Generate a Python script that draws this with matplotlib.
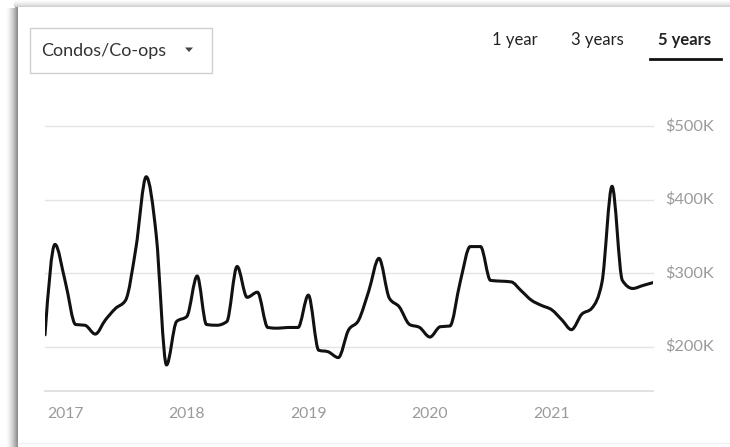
import numpy as np
import pandas as pd
import matplotlib
matplotlib.use("Agg")
import matplotlib.pyplot as plt
import matplotlib.dates as mdates
from matplotlib.path import Path
from matplotlib.patches import PathPatch, Rectangle, Polygon

# ---------------- data ----------------
start_month = "2016-11-01"
prices_k = [216, 339, 288, 230, 229, 217, 236, 252, 263, 334,
            431, 352, 175, 234, 241, 296, 230, 229, 234, 309,
            267, 274, 226, 225, 226, 226, 270, 195, 193, 185,
            222, 236, 275, 320, 266, 254, 230, 226, 213, 227,
            228, 288, 336, 336, 290, 289, 288, 276, 263, 256,
            250, 236, 223, 244, 252, 288, 418, 290, 279, 283, 287]
y_ticks = [200, 300, 400, 500]
y_tick_labels = ["$200K", "$300K", "$400K", "$500K"]
x_tick_years = [2017, 2018, 2019, 2020, 2021]
tabs = ["1 year", "3 years", "5 years"]
dropdown_label = "Condos/Co-ops"

dates = pd.date_range(start_month, periods=len(prices_k), freq="MS")
xs = mdates.date2num(dates.to_pydatetime())
ys = np.array(prices_k, dtype=float)

# ---------------- monotone-X curve (d3 style) ----------------
def monotone_path(x, y):
    n = len(x)
    t = np.zeros(n)
    for i in range(1, n - 1):
        h0 = x[i] - x[i - 1]
        h1 = x[i + 1] - x[i]
        s0 = (y[i] - y[i - 1]) / h0
        s1 = (y[i + 1] - y[i]) / h1
        p = (s0 * h1 + s1 * h0) / (h0 + h1)
        t[i] = (np.sign(s0) + np.sign(s1)) * min(abs(s0), abs(s1), 0.5 * abs(p))
    h = x[1] - x[0]
    t[0] = (3 * (y[1] - y[0]) / h - t[1]) / 2
    h = x[-1] - x[-2]
    t[-1] = (3 * (y[-1] - y[-2]) / h - t[-2]) / 2
    verts = [(x[0], y[0])]
    codes = [Path.MOVETO]
    for i in range(n - 1):
        dx = (x[i + 1] - x[i]) / 3
        verts += [(x[i] + dx, y[i] + dx * t[i]),
                  (x[i + 1] - dx, y[i + 1] - dx * t[i + 1]),
                  (x[i + 1], y[i + 1])]
        codes += [Path.CURVE4] * 3
    return Path(verts, codes)

# ---------------- figure ----------------
W, H = 730, 447
fig = plt.figure(figsize=(W / 100, H / 100), dpi=100)
fig.patch.set_facecolor("white")
FONT = ["Lato", "DejaVu Sans"]

def fx(px):
    return px / W

def fy(py):
    return 1 - py / H

CARD_L, CARD_T, CARD_B = 18, 7, 443

# card shadow: left edge (darker) and top edge (lighter)
n_left = 12
for i in range(n_left):
    f = (i + 1) / n_left            # 0 -> far, 1 -> next to card
    shade = 1 - 0.45 * f ** 1.6
    fig.add_artist(Rectangle((fx(CARD_L - n_left + i), 0), fx(1), fy(CARD_T + 2 - 2 * f),
                             transform=fig.transFigure, facecolor=(shade,) * 3,
                             edgecolor="none", zorder=-3))
n_top = 7
for i in range(n_top):
    f = (i + 1) / n_top
    shade = 1 - 0.18 * f ** 1.5
    fig.add_artist(Rectangle((fx(CARD_L - 4), fy(CARD_T - n_top + i + 1)), 1, fx(1) * W / H,
                             transform=fig.transFigure, facecolor=(shade,) * 3,
                             edgecolor="none", zorder=-3))
# white card
fig.add_artist(Rectangle((fx(CARD_L), fy(CARD_B)), 1 - fx(CARD_L), fy(CARD_T) - fy(CARD_B),
                         transform=fig.transFigure, facecolor="white",
                         edgecolor="none", zorder=-2))
fig.add_artist(plt.Line2D([fx(CARD_L), 1], [fy(CARD_B), fy(CARD_B)], transform=fig.transFigure,
                          color="#f0f0f0", lw=1.0, zorder=-1))

# ---------------- axes ----------------
ax_left, ax_right = 45, 653
ax_top, ax_bottom = 126, 390.7
ax = fig.add_axes([fx(ax_left), fy(ax_bottom), fx(ax_right - ax_left), fy(ax_top) - fy(ax_bottom)])
ax.set_zorder(1)
ax.set_facecolor("none")
ax.set_xlim(xs[0], xs[-1])
ax.set_ylim(140, 500)
for s in ax.spines.values():
    s.set_visible(False)
ax.tick_params(left=False, bottom=False, labelleft=False, labelbottom=True)

for v in y_ticks:
    ax.axhline(v, color="#e4e4e4", lw=1.0, zorder=1, clip_on=False)
ax.axhline(140, color="#dcdcdc", lw=1.2, zorder=1, clip_on=False)

lab_x = 1 + (665 - ax_right) / (ax_right - ax_left)
for v, lab in zip(y_ticks, y_tick_labels):
    ax.text(lab_x, v, lab, transform=ax.get_yaxis_transform(), ha="left", va="center",
            fontsize=11.8, color="#9a9a9a", family=FONT)

tick_pos = mdates.date2num([pd.Timestamp(f"{y}-01-01").to_pydatetime() for y in x_tick_years])
ax.set_xticks(tick_pos)
ax.set_xticklabels([str(y) for y in x_tick_years], fontsize=11.3, color="#9a9a9a", family=FONT)
ax.tick_params(axis="x", pad=8)

ax.add_patch(PathPatch(monotone_path(xs, ys), fill=False, edgecolor="#111111",
                       lw=2.2, capstyle="round", joinstyle="round", zorder=3))

# ---------------- controls ----------------
fig.add_artist(Rectangle((fx(30), fy(73)), fx(212 - 30), fy(28) - fy(73),
                         transform=fig.transFigure, facecolor="white",
                         edgecolor="#cfcfcf", lw=1.0, zorder=2))
fig.text(fx(41), fy(51), dropdown_label, ha="left", va="center", fontsize=13,
         color="#333333", family=FONT)
fig.add_artist(Polygon([(fx(185), fy(47.5)), (fx(193), fy(47.5)), (fx(189), fy(52))],
                       closed=True, transform=fig.transFigure, facecolor="#444444",
                       edgecolor="none", zorder=3))

tab_x = [515, 597, 685]
for lab, xc in zip(tabs, tab_x):
    fig.text(fx(xc), fy(40), lab, ha="center", va="center", fontsize=12,
             color="#222222", family=FONT,
             fontweight="bold" if lab == tabs[-1] else "normal")
fig.add_artist(plt.Line2D([fx(650), fx(721)], [fy(59), fy(59)], transform=fig.transFigure,
                          color="#111111", lw=2.0, zorder=3))

fig.savefig("out.png", dpi=100, facecolor=fig.get_facecolor())
